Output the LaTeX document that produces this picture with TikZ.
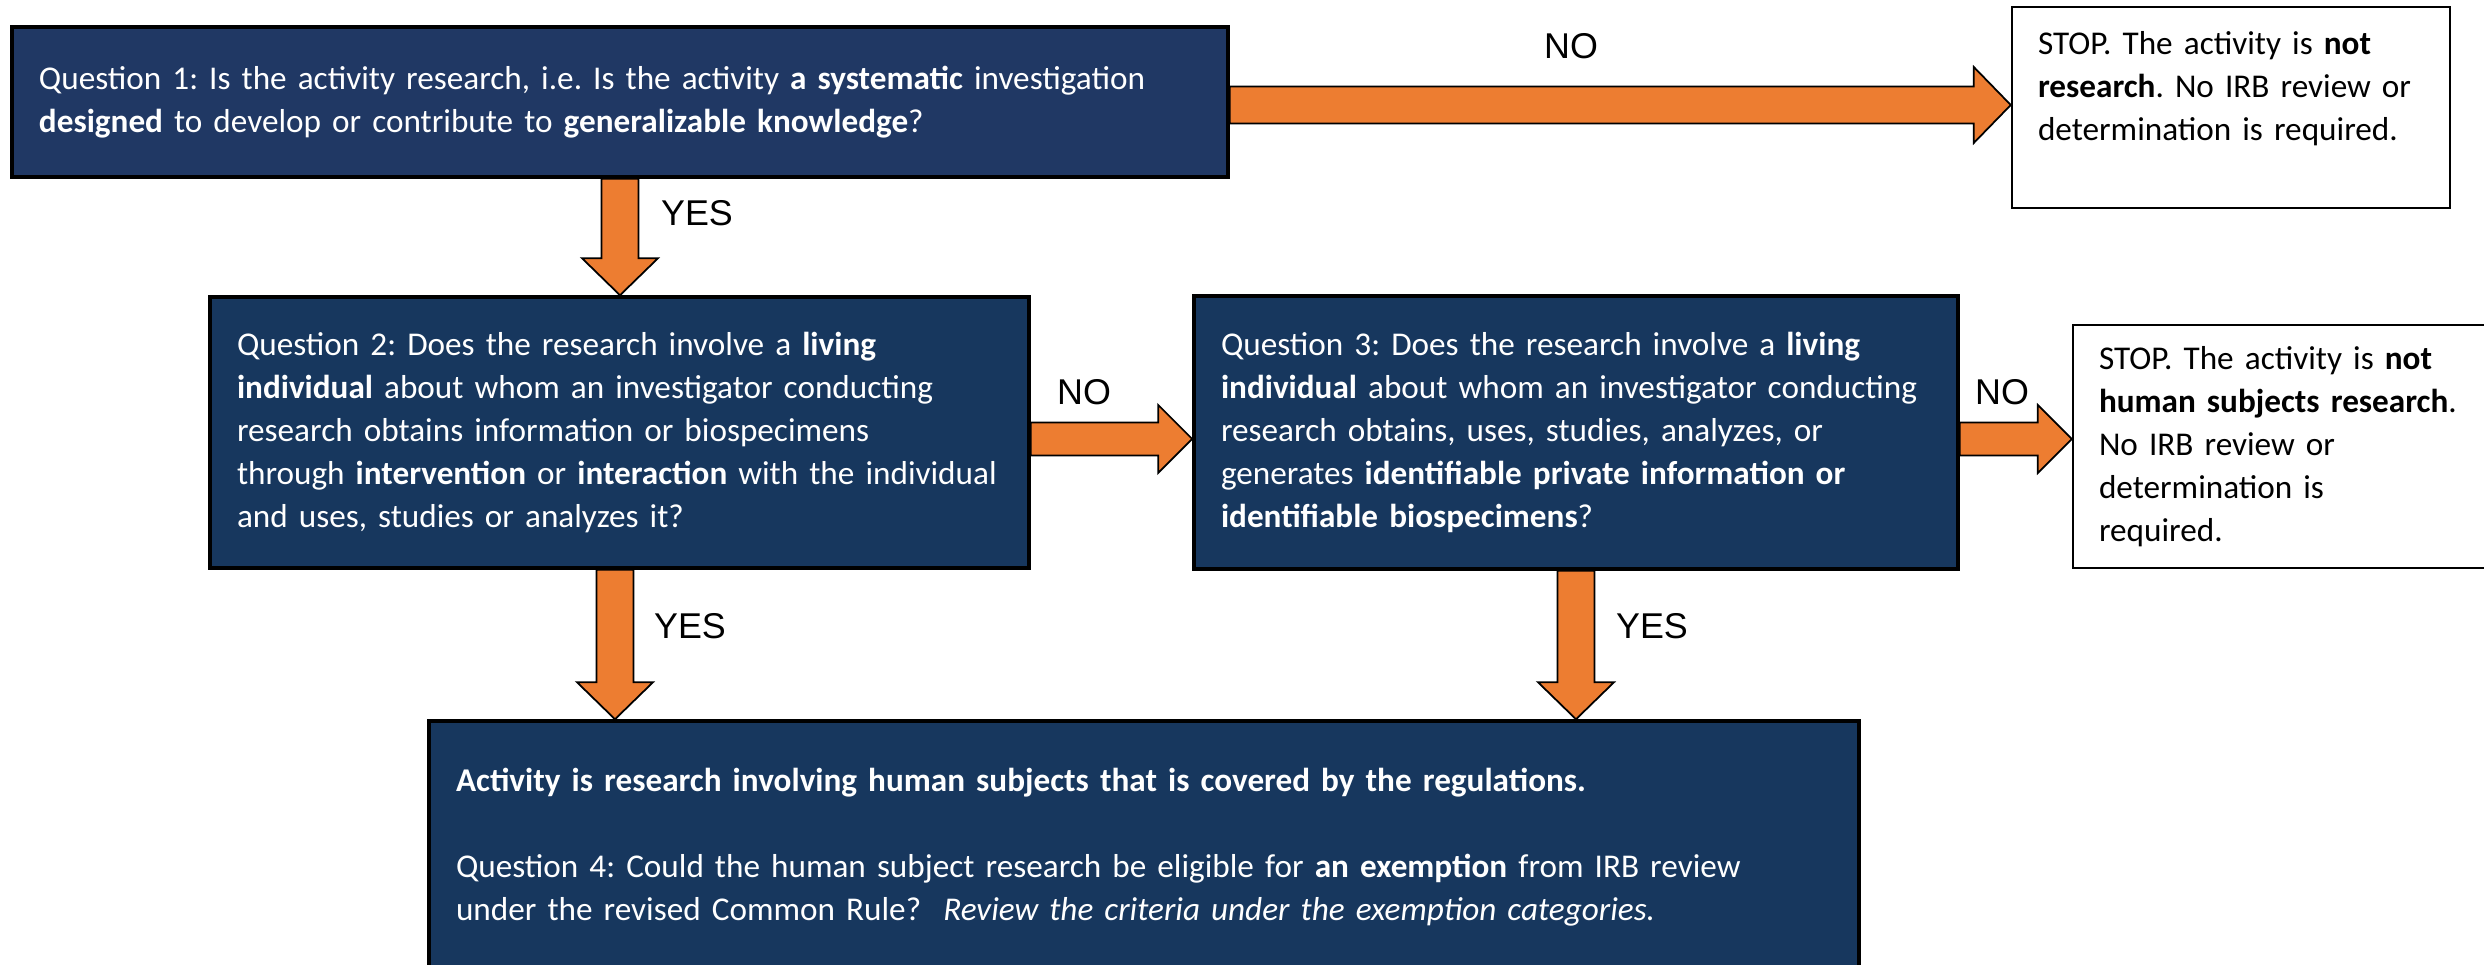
\documentclass[tikz,border=0pt]{standalone}
\usepackage{fontspec}
\setmainfont{Carlito}
\newfontfamily\arialfont{Liberation Sans}
\usetikzlibrary{positioning,calc}
\definecolor{navy}{HTML}{203864}
\definecolor{qblue}{HTML}{17375E}
\definecolor{arroworange}{HTML}{ED7D31}
\newcommand{\boxfont}{\fontsize{9.45pt}{12.23pt}\selectfont\frenchspacing\hyphenpenalty=10000}
\tikzset{%
  every qbox/.style={draw=black,line width=1pt,fill=qblue,text=white,align=left,
    inner xsep=0.27cm,inner ysep=0pt,font=\boxfont},
  every stop/.style={draw=black,line width=0.7pt,fill=white,text=black,align=left,
    inner xsep=0.26cm,inner ysep=0pt,font=\boxfont},
}
% block arrow: from, to, shaft half width, head half width, head length
\newcommand{\blockarrow}[5]{%
  \coordinate (hb) at ($(#2)!#5!(#1)$);
  \draw[barrow] ($(#1)!#3!90:(#2)$) -- ($(hb)!#3!90:(#2)$) -- ($(hb)!#4!90:(#2)$) -- (#2)
    -- ($(hb)!#4!-90:(#2)$) -- ($(hb)!#3!-90:(#2)$) -- ($(#1)!#3!-90:(#2)$) -- cycle;
}

\begin{document}
\begin{tikzpicture}[
            qnode/.style={every qbox},
            stopnode/.style={every stop},
            barrow/.style={draw=black,line width=0.5pt,fill=arroworange,line join=miter},
            lbl/.style={font=\arialfont\fontsize{10.2pt}{12pt}\selectfont,inner sep=0pt},
            >=latex
            ]
            \clip (0,0) rectangle (24.84,-9.65);

            \node[qnode,fill=navy,text width=11.62cm,minimum height=1.50cm] (q1) at (6.20,-1.02)
              {Question 1: Is the activity research, i.e. Is the activity \textbf{a systematic} investigation\\
               \textbf{designed} to develop or contribute to \textbf{generalizable knowledge}?};
            \node[stopnode,text width=3.86cm,minimum height=2.01cm] (stop1) at (22.31,-1.075)
              {STOP. The activity is \textbf{not}\\ \textbf{research}. No IRB review or\\ determination is required.\\ \mbox{}};
            \node[qnode,text width=7.65cm,minimum height=2.71cm] (q2) at (6.195,-4.325)
              {Question 2: Does the research involve a \textbf{living}\\
               \textbf{individual} about whom an investigator conducting\\
               research obtains information or biospecimens\\
               through \textbf{intervention} or \textbf{interaction} with the individual\\
               and uses, studies or analyzes it?};
            \node[qnode,text width=7.10cm,minimum height=2.73cm] (q3) at (15.76,-4.325)
              {Question 3: Does the research involve a \textbf{living}\\
               \textbf{individual} about whom an investigator conducting\\
               research obtains, uses, studies, analyzes, or\\
               generates \textbf{identifiable private information or}\\
               \textbf{identifiable biospecimens}?};
            \node[stopnode,text width=4.05cm,minimum height=2.43cm] (stop2) at (23.015,-4.465)
              {STOP. The activity is \textbf{not}\\ \textbf{human subjects research}.\\ No IRB review or\\ determination is\\ required.};
            \node[qnode,text width=13.76cm,minimum height=2.52cm] (q4) at (11.44,-8.47)
              {\textbf{Activity is research involving human subjects that is covered by the regulations.}\\ \mbox{}\\
               Question 4: Could the human subject research be eligible for \textbf{an exemption} from IRB review\\
               under the revised Common Rule?\ \ \textit{Review the criteria under the exemption categories.}};

            % arrow ends
            \coordinate (no1s) at ([yshift=-0.03cm]q1.east);
            \coordinate (no1e) at (no1s -| stop1.west);
            \coordinate (yes1e) at (q1.south |- q2.north);
            \coordinate (no2s) at ([yshift=-0.065cm]q2.east);
            \coordinate (no2e) at (no2s -| q3.west);
            \coordinate (no3s) at ([yshift=-0.065cm]q3.east);
            \coordinate (no3e) at (no3s -| stop2.west);
            \coordinate (yes2s) at ([xshift=-0.045cm]q2.south);
            \coordinate (yes2e) at (yes2s |- q4.north);
            \coordinate (yes3e) at (q3.south |- q4.north);

            \foreach \a/\b in {no1s/no1e,q1.south/yes1e,yes2s/yes2e,q3.south/yes3e}
              \blockarrow{\a}{\b}{0.185cm}{0.38cm}{0.37cm};
            \foreach \a/\b in {no2s/no2e,no3s/no3e}
              \blockarrow{\a}{\b}{0.165cm}{0.34cm}{0.34cm};

            \foreach \n/\p/\t in {lno1/{15.71,-0.46}/NO,lyes1/{6.97,-2.13}/YES,lno2/{10.84,-3.92}/NO,
                                  lno3/{20.02,-3.92}/NO,lyes2/{6.90,-6.26}/YES,lyes3/{16.52,-6.26}/YES}
              \node[lbl] (\n) at (\p) {\t};
        \end{tikzpicture}
\end{document}
